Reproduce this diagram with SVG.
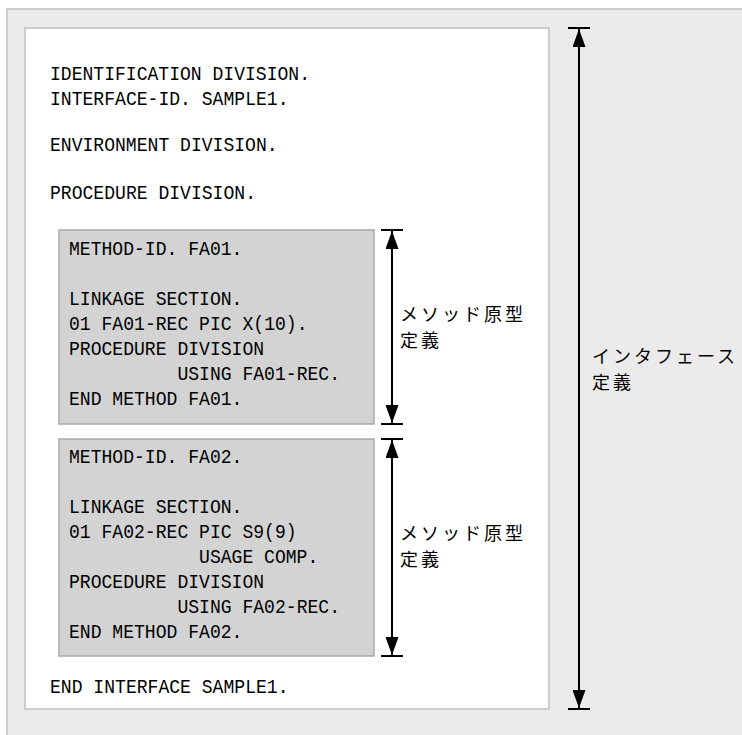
<svg xmlns="http://www.w3.org/2000/svg" width="742" height="735" viewBox="0 0 742 735">
<defs>
<style>
.code{font-family:"Liberation Mono","DejaVu Sans Mono",monospace;font-size:21px;fill:#000}
.jp{font-family:"Noto Sans CJK JP","Noto Sans",sans-serif;font-size:18px;letter-spacing:3px;fill:#000}
.box{fill:#d3d3d3;stroke:#a9a9a9;stroke-width:1.5}
.dim{stroke:#000;stroke-width:2;fill:none}
.tick{stroke:#000;stroke-width:2}
</style>
<marker id="ah" markerUnits="userSpaceOnUse" markerWidth="18" markerHeight="13" refX="18" refY="6.5" orient="auto-start-reverse" viewBox="0 0 18 13">
<path d="M0,0 L18,6.5 L0,13 Z" fill="#000"/>
</marker>
</defs>
<rect x="7" y="9" width="800" height="800" fill="#ebebeb" stroke="#cccccc" stroke-width="2"/>
<g id="interface">
<rect x="25" y="28" width="524" height="681" fill="#ffffff" stroke="#cccccc" stroke-width="2"/>
<text class="code" x="50" y="80" textLength="260" lengthAdjust="spacingAndGlyphs">IDENTIFICATION DIVISION.</text>
<text class="code" x="50" y="105" textLength="238.5" lengthAdjust="spacingAndGlyphs">INTERFACE-ID. SAMPLE1.</text>
<text class="code" x="50" y="151" textLength="227.6" lengthAdjust="spacingAndGlyphs">ENVIRONMENT DIVISION.</text>
<text class="code" x="50" y="199" textLength="206" lengthAdjust="spacingAndGlyphs">PROCEDURE DIVISION.</text>
<text class="code" x="50" y="693" textLength="238.5" lengthAdjust="spacingAndGlyphs">END INTERFACE SAMPLE1.</text>
</g>
<g id="method1">
<rect class="box" x="59" y="230" width="315" height="194"/>
<text class="code" x="69" y="255" textLength="173.4" lengthAdjust="spacingAndGlyphs">METHOD-ID. FA01.</text>
<text class="code" x="69" y="305" textLength="173.4" lengthAdjust="spacingAndGlyphs">LINKAGE SECTION.</text>
<text class="code" x="69" y="330" textLength="238.5" lengthAdjust="spacingAndGlyphs">01 FA01-REC PIC X(10).</text>
<text class="code" x="69" y="355" textLength="195.1" lengthAdjust="spacingAndGlyphs">PROCEDURE DIVISION</text>
<text class="code" x="177.4" y="380" textLength="162.6" lengthAdjust="spacingAndGlyphs">USING FA01-REC.</text>
<text class="code" x="69" y="405" textLength="173.4" lengthAdjust="spacingAndGlyphs">END METHOD FA01.</text>
</g>
<g id="method2">
<rect class="box" x="59" y="439" width="315" height="217"/>
<text class="code" x="69" y="463" textLength="173.4" lengthAdjust="spacingAndGlyphs">METHOD-ID. FA02.</text>
<text class="code" x="69" y="513" textLength="173.4" lengthAdjust="spacingAndGlyphs">LINKAGE SECTION.</text>
<text class="code" x="69" y="538" textLength="227.6" lengthAdjust="spacingAndGlyphs">01 FA02-REC PIC S9(9)</text>
<text class="code" x="199.1" y="563" textLength="119.2" lengthAdjust="spacingAndGlyphs">USAGE COMP.</text>
<text class="code" x="69" y="588" textLength="195.1" lengthAdjust="spacingAndGlyphs">PROCEDURE DIVISION</text>
<text class="code" x="177.4" y="613" textLength="162.6" lengthAdjust="spacingAndGlyphs">USING FA02-REC.</text>
<text class="code" x="69" y="638" textLength="173.4" lengthAdjust="spacingAndGlyphs">END METHOD FA02.</text>
</g>
<g id="label1">
<text class="jp" x="400" y="321">メソッド原型</text>
<text class="jp" x="400" y="347">定義</text>
</g>
<g id="label2">
<text class="jp" x="400" y="540">メソッド原型</text>
<text class="jp" x="400" y="566">定義</text>
</g>
<g id="label3">
<text class="jp" x="592" y="363">インタフェース</text>
<text class="jp" x="592" y="389">定義</text>
</g>
<g id="connectors">
<line class="tick" x1="381" y1="230" x2="403" y2="230"/>
<line class="tick" x1="381" y1="424" x2="403" y2="424"/>
<line class="dim" x1="392" y1="231" x2="392" y2="423" marker-start="url(#ah)" marker-end="url(#ah)"/>
<line class="tick" x1="381" y1="439" x2="403" y2="439"/>
<line class="tick" x1="381" y1="656" x2="403" y2="656"/>
<line class="dim" x1="392" y1="440" x2="392" y2="655" marker-start="url(#ah)" marker-end="url(#ah)"/>
<line class="tick" x1="568" y1="28" x2="590" y2="28"/>
<line class="tick" x1="568" y1="709" x2="590" y2="709"/>
<line class="dim" x1="579" y1="29" x2="579" y2="708" marker-start="url(#ah)" marker-end="url(#ah)"/>
</g>
</svg>
